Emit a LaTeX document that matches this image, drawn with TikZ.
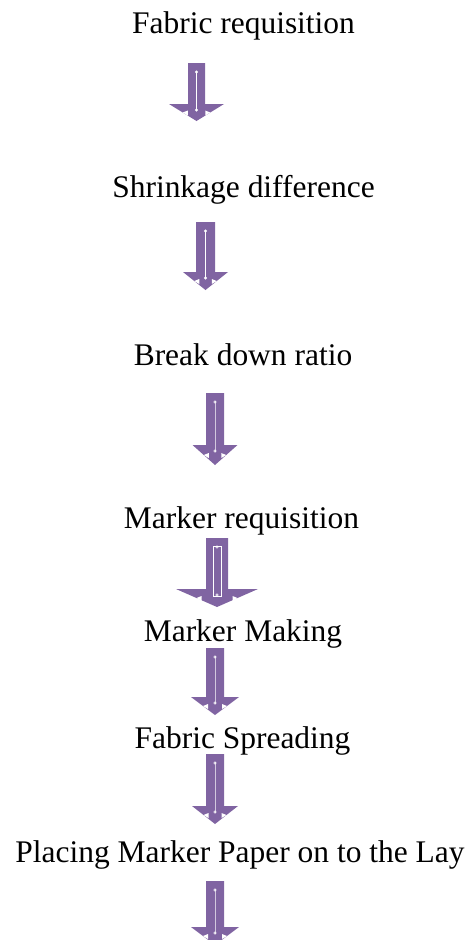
\documentclass[tikz,border=0pt]{standalone}
\usepackage{fontspec}
\setmainfont{Liberation Serif}
\newfontfamily\labelfont{Liberation Serif}
\usepackage{xcolor}
\usetikzlibrary{positioning}

\definecolor{flowpurple}{RGB}{128,100,162}

\tikzset{
    steplabel/.style={anchor=base, inner sep=0pt, font=\labelfont\fontsize{23.6}{28}\selectfont},
    arrowbody/.style={fill=flowpurple},
    arrowline/.style={draw=white, line width=0.6pt},
}

\begin{document}
\begin{tikzpicture}[x=0.75pt, y=-0.75pt]
    \useasboundingbox (0,0) rectangle (473,940);

    % --- Step labels (placed on their baselines) ---
    \node[steplabel] (fabreq)  at (243.5,33)  {Fabric requisition};
    \node[steplabel] (shrink)  at (243.5,197) {Shrinkage difference};
    \node[steplabel] (ratio)   at (243,365)   {Break down ratio};
    \node[steplabel] (markreq) at (241.5,528) {Marker requisition};
    \node[steplabel] (markmk)  at (243,641)   {Marker Making};
    \node[steplabel] (spread)  at (242.5,748) {Fabric Spreading};
    \node[steplabel] (placing) at (240,862)   {Placing Marker Paper on to the Lay};

    % --- Block arrows ---
    % centre x / shaft top / head top / tip / shaft width / head width / inner stripe width
    \foreach \cx/\ya/\yb/\yc/\sw/\hw/\iw in {
        196.5/63/104/121/17/55/0,
        205.5/222/272/290/19/45/0,
        215/393/445/465/18/45/0,
        217/538/589/607/22/82/8,
        215/648/697/715/18/48/0,
        215/754/806/824/18/46/0,
        215/881/927/945/18/48/0}
    {
        \fill[arrowbody] (\cx-\sw/2,\ya) -- (\cx+\sw/2,\ya) -- (\cx+\sw/2,\yb)
            -- (\cx+\hw/2,\yb) -- (\cx,\yc) -- (\cx-\hw/2,\yb)
            -- (\cx-\sw/2,\yb) -- cycle;
        % thin white stripe down the shaft
        \draw[arrowline] (\cx-\iw/2,\ya+8) rectangle (\cx+\iw/2,\yb+7);
        \draw[arrowline, line width=0.4pt] (\cx,\ya+9) circle (1.2);
        \draw[arrowline, line width=0.4pt] (\cx,\yb+6) circle (1.2);
        % small notches on the underside of the head
        \fill[white] (\cx-\hw/4,{\yb+(\yc-\yb)/2}) -- (\cx-\hw/4+5,{\yb+(\yc-\yb)/2-2})
            -- (\cx-\hw/4+5,{\yb+(\yc-\yb)/2+3}) -- cycle;
        \fill[white] (\cx+\hw/4,{\yb+(\yc-\yb)/2}) -- (\cx+\hw/4-5,{\yb+(\yc-\yb)/2-2})
            -- (\cx+\hw/4-5,{\yb+(\yc-\yb)/2+3}) -- cycle;
    }

\end{tikzpicture}
\end{document}
